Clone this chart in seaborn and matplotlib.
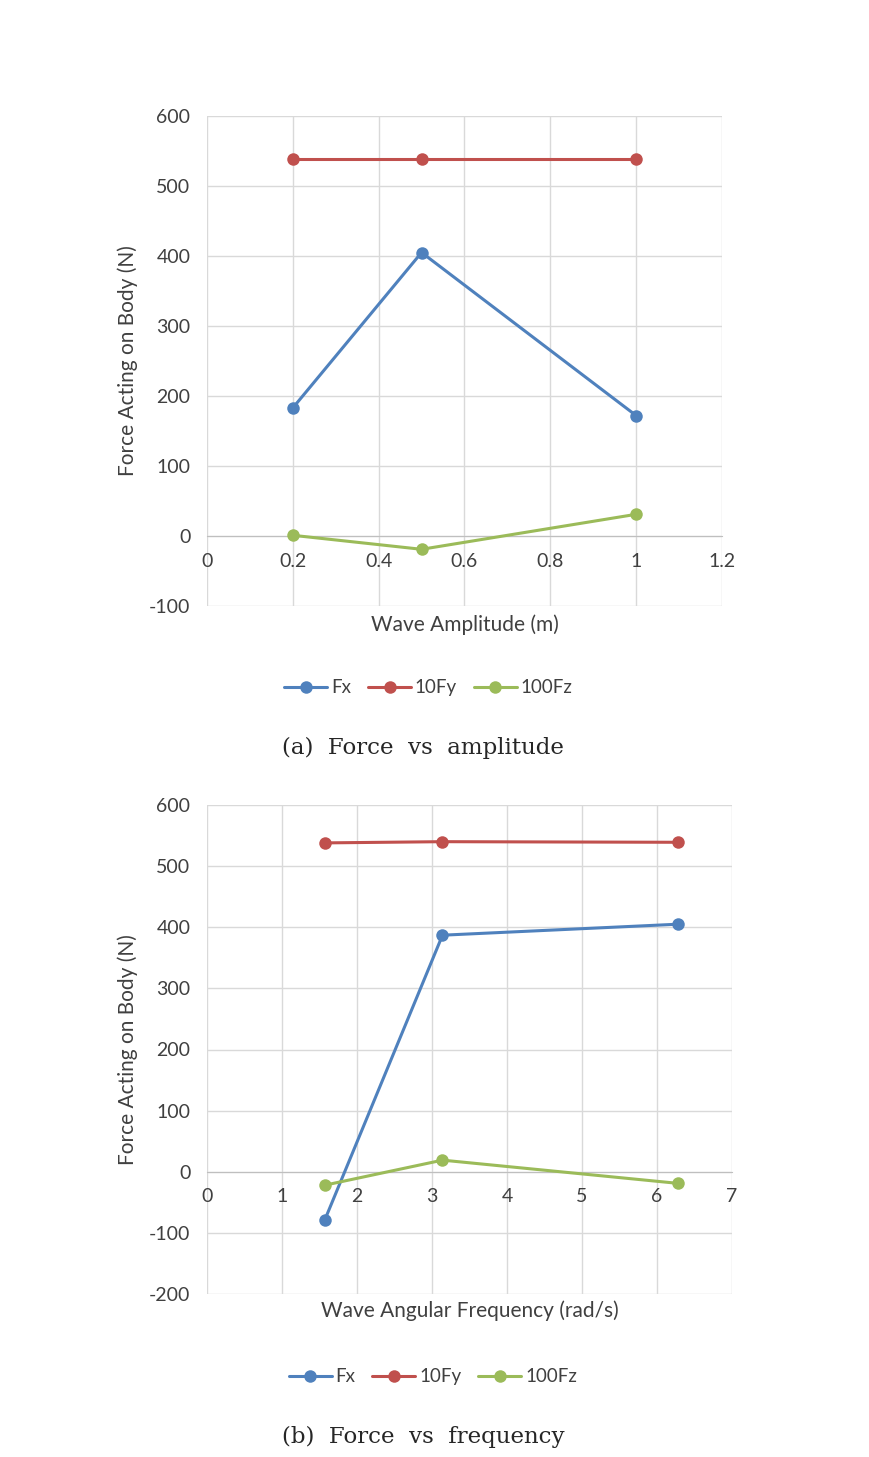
import pandas as pd
import seaborn as sns
import matplotlib.pyplot as plt

# (a) force vs wave amplitude
amp = [0.2, 0.5, 1.0]
amp_fx = [183, 405, 172]
amp_fy10 = [539, 539, 539]
amp_fz100 = [1, -19, 31]

# (b) force vs wave angular frequency
freq = [1.57, 3.14, 6.28]
freq_fx = [-79, 387, 405]
freq_fy10 = [538, 540, 539]
freq_fz100 = [-22, 19, -19]

series = ["Fx", "10Fy", "100Fz"]
colors = ["#4F81BD", "#C0504D", "#9BBB59"]

sns.set_style("white")
plt.rcParams['font.family'] = ['Lato', 'DejaVu Sans']
plt.rcParams['axes.unicode_minus'] = False


def long_df(x, fx, fy, fz):
    rows = []
    for name, vals in zip(series, [fx, fy, fz]):
        for xi, v in zip(x, vals):
            rows.append({"x": xi, "value": v, "series": name})
    return pd.DataFrame(rows)


def draw(ax, df, xlim, xticks, xticklabels, ylim, yticks, xlabel, xlabel_y, leg_y):
    sns.lineplot(data=df, x="x", y="value", hue="series", hue_order=series,
                 palette=colors, marker="o", markersize=9, markeredgewidth=0,
                 linewidth=2.2, sort=False, legend=False, ax=ax)
    ax.set_xlim(*xlim)
    ax.set_ylim(*ylim)
    ax.set_xticks(xticks)
    ax.set_xticklabels(xticklabels)
    ax.set_yticks(yticks)
    ax.grid(True, color="#d9d9d9", linewidth=1)
    ax.set_axisbelow(True)
    for s in ["top", "right", "left"]:
        ax.spines[s].set_visible(False)
    ax.spines["bottom"].set_position(("data", 0))
    ax.spines["bottom"].set_color("#bfbfbf")
    ax.spines["bottom"].set_zorder(1)
    ax.tick_params(axis="x", length=0, pad=12, labelsize=14, colors="#404040")
    ax.tick_params(axis="y", length=0, pad=12, labelsize=14, colors="#404040")
    ax.set_xlabel(xlabel, fontsize=15, color="#404040")
    ax.xaxis.set_label_coords(0.5, xlabel_y)
    ax.set_ylabel("Force Acting on Body (N)", fontsize=15, color="#404040", labelpad=8)
    ax.legend(ax.lines[:3], series, loc="upper center", bbox_to_anchor=(0.43, leg_y),
              ncol=3, frameon=False, fontsize=13.5, handlelength=2.3, columnspacing=0.9,
              handletextpad=0.2, labelcolor="#404040")


fig = plt.figure(figsize=(8.7, 14.57), dpi=100)

ax1 = fig.add_axes([207 / 870, 1 - 606 / 1457, 515 / 870, 490 / 1457])
draw(ax1, long_df(amp, amp_fx, amp_fy10, amp_fz100), (0, 1.2),
     [0, 0.2, 0.4, 0.6, 0.8, 1.0, 1.2], ["0", "0.2", "0.4", "0.6", "0.8", "1", "1.2"],
     (-100, 600), range(-100, 601, 100), "Wave Amplitude (m)", -0.018, -0.115)

ax2 = fig.add_axes([207 / 870, 1 - 1294 / 1457, 525 / 870, 489 / 1457])
draw(ax2, long_df(freq, freq_fx, freq_fy10, freq_fz100), (0, 7),
     range(0, 8), [str(i) for i in range(0, 8)],
     (-200, 600), range(-200, 601, 100), "Wave Angular Frequency (rad/s)", -0.014, -0.117)

fig.text(423 / 870, 1 - 748 / 1457, "(a)  Force  vs  amplitude", ha="center", va="center",
         fontsize=16.5, family="DejaVu Serif")
fig.text(423 / 870, 1 - 1437 / 1457, "(b)  Force  vs  frequency", ha="center", va="center",
         fontsize=16.5, family="DejaVu Serif")

fig.savefig("out.png", dpi=100)
